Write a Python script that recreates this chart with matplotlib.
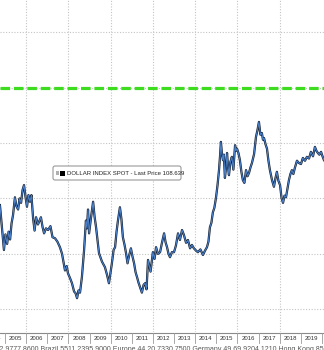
import matplotlib
matplotlib.use("Agg")
import matplotlib.pyplot as plt
from matplotlib.patches import FancyBboxPatch, Rectangle
from matplotlib.lines import Line2D

# ---- data ----
dates = [2004.76, 2004.86, 2004.95, 2005.02, 2005.10, 2005.17, 2005.24, 2005.31, 2005.38, 2005.47,
         2005.54, 2005.62, 2005.69, 2005.76, 2005.83, 2005.90, 2005.97, 2006.04, 2006.11, 2006.18,
         2006.25, 2006.33, 2006.40, 2006.47, 2006.56, 2006.70, 2006.78, 2006.85, 2006.94, 2007.04,
         2007.15, 2007.25, 2007.37, 2007.48, 2007.60, 2007.70, 2007.84, 2007.92, 2007.98, 2008.08,
         2008.17, 2008.27, 2008.34, 2008.41, 2008.48, 2008.55, 2008.64, 2008.74, 2008.83, 2008.88,
         2008.93, 2008.98, 2009.07, 2009.17, 2009.24, 2009.31, 2009.38, 2009.45, 2009.59, 2009.73,
         2009.83, 2009.92, 2010.00, 2010.06, 2010.14, 2010.21, 2010.28, 2010.35, 2010.44, 2010.51,
         2010.58, 2010.66, 2010.73, 2010.80, 2010.87, 2010.96, 2011.03, 2011.11, 2011.18, 2011.25,
         2011.32, 2011.39, 2011.48, 2011.56, 2011.63, 2011.70, 2011.77, 2011.89, 2012.00, 2012.08,
         2012.15, 2012.24, 2012.34, 2012.43, 2012.53, 2012.60, 2012.67, 2012.74, 2012.81, 2012.90,
         2013.00, 2013.09, 2013.19, 2013.28, 2013.38, 2013.47, 2013.57, 2013.66, 2013.76, 2013.85,
         2013.94, 2014.04, 2014.13, 2014.25, 2014.37, 2014.47, 2014.56, 2014.63, 2014.70, 2014.77,
         2014.84, 2014.91, 2014.99, 2015.06, 2015.13, 2015.18, 2015.22, 2015.27, 2015.32, 2015.36,
         2015.41, 2015.46, 2015.51, 2015.55, 2015.60, 2015.67, 2015.74, 2015.81, 2015.89, 2015.93,
         2015.98, 2016.05, 2016.12, 2016.19, 2016.26, 2016.33, 2016.41, 2016.48, 2016.55, 2016.62,
         2016.69, 2016.79, 2016.88, 2016.95, 2017.02, 2017.09, 2017.16, 2017.21, 2017.26, 2017.33,
         2017.40, 2017.47, 2017.54, 2017.64, 2017.73, 2017.80, 2017.87, 2017.94, 2018.02, 2018.09,
         2018.16, 2018.23, 2018.30, 2018.37, 2018.44, 2018.51, 2018.58, 2018.65, 2018.72, 2018.82,
         2018.91, 2019.01, 2019.10, 2019.20, 2019.29, 2019.39, 2019.48, 2019.58, 2019.67, 2019.74,
         2019.81, 2019.88, 2019.96, 2020.03, 2020.10]
values = [88.8, 84.5, 80.7, 83.5, 81.8, 84.0, 82.6, 85.5, 87.0, 90.2,
          88.6, 88.0, 90.0, 89.2, 91.5, 92.4, 90.3, 88.5, 90.6, 89.4,
          90.6, 86.4, 84.2, 86.6, 85.3, 86.6, 84.8, 83.7, 84.6, 84.3,
          85.0, 83.0, 82.8, 82.2, 81.2, 80.0, 77.0, 77.8, 76.5, 75.6,
          74.7, 73.2, 72.9, 72.0, 73.4, 73.0, 75.8, 80.5, 86.0, 84.6,
          88.0, 83.7, 86.5, 89.4, 86.7, 84.8, 82.4, 80.1, 78.6, 77.6,
          76.2, 74.7, 76.8, 78.3, 80.7, 81.2, 84.0, 86.1, 88.4, 86.3,
          83.0, 81.6, 80.1, 78.3, 79.6, 81.0, 79.6, 78.3, 76.7, 75.8,
          74.8, 74.0, 73.0, 74.4, 74.7, 73.6, 78.9, 76.8, 80.3, 79.1,
          81.2, 80.0, 80.3, 82.0, 83.7, 82.1, 81.2, 80.0, 79.4, 80.3,
          80.3, 81.5, 83.7, 82.5, 84.3, 83.4, 82.0, 82.5, 81.0, 81.6,
          81.0, 80.6, 80.3, 80.8, 79.8, 80.6, 81.2, 82.2, 84.8, 85.6,
          87.5, 88.3, 90.2, 92.4, 95.1, 97.7, 100.2, 98.0, 96.9, 97.9,
          93.7, 95.5, 98.2, 96.0, 94.2, 96.6, 97.5, 95.2, 99.6, 98.6,
          99.0, 98.2, 96.9, 94.8, 93.3, 92.8, 95.1, 94.0, 94.6, 95.6,
          96.4, 98.0, 101.1, 102.3, 103.8, 101.5, 101.8, 100.6, 100.9, 99.8,
          99.0, 96.8, 95.1, 93.3, 92.1, 93.6, 94.8, 93.2, 92.4, 90.1,
          89.2, 90.5, 90.2, 91.8, 93.3, 94.4, 95.1, 94.4, 95.5, 96.8,
          96.4, 96.2, 97.3, 96.8, 97.5, 97.2, 98.4, 97.6, 99.3, 98.6,
          98.2, 97.9, 98.4, 97.6, 96.9]
year_labels = [2004, 2005, 2006, 2007, 2008, 2009, 2010, 2011, 2012, 2013,
               2014, 2015, 2016, 2017, 2018, 2019, 2020]
grid_years = [2006, 2008, 2010, 2012, 2014, 2016, 2018]
grid_levels = [70, 80, 90, 100, 110, 120]
green_level = 109.9
legend_text = "DOLLAR INDEX SPOT - Last Price 108.639"
footer_text = ("Australia 61 2 9777 8600 Brazil 5511 2395 9000 Europe 44 20 7330 7500 "
               "Germany 49 69 9204 1210 Hong Kong 852 2977 6000 Japan 81 3 3201 8900")

W, H = 324, 350
fig = plt.figure(figsize=(W / 100, H / 100), dpi=100)
fig.patch.set_facecolor("white")

def fx(px):
    return px / W

def fy(py):
    return 1 - py / H

ax_bottom_px = 332
ax = fig.add_axes([0, fy(ax_bottom_px), 1, 1 - fy(ax_bottom_px)])
x0, x1 = 2004.763, 2020.10
ax.set_xlim(x0, x1)
ax.set_ylim(65.9, 125.8)
for s in ax.spines.values():
    s.set_visible(False)
ax.set_xticks([])
ax.set_yticks([])

for g in grid_levels:
    ax.axhline(g, color="#c4c4c4", lw=0.8, ls=(0, (1, 1.5)), zorder=1)
for gy in grid_years:
    ax.axvline(gy, color="#c4c4c4", lw=0.8, ls=(0, (1, 1.5)), zorder=1)

ax.axhline(green_level, color="#3ddc1f", lw=2.3, ls=(0, (3, 1.2)), zorder=2)

ax.plot(dates, values, color="#101a2a", lw=1.6, zorder=3)
ax.plot(dates, values, color="#4a80c8", lw=0.8, zorder=4)

# bottom date strip
def year_to_px(y):
    return (y - x0) / (x1 - x0) * W

fig.add_artist(Line2D([0, 1], [fy(332.5), fy(332.5)], color="#8a8a8a", lw=0.8))
for yl in year_labels:
    xb = year_to_px(yl)
    fig.add_artist(Line2D([fx(xb), fx(xb)], [fy(332.5), fy(343)], color="#9a9a9a", lw=0.6))
    fig.text(fx(year_to_px(yl + 0.5)), fy(338), str(yl), ha="center", va="center",
             fontsize=4.3, family="Liberation Sans", color="#333333")

fig.text(fx(-40), fy(349.5), footer_text, ha="left", va="center",
         fontsize=5, family="Liberation Sans", color="#555555")

# legend box
box = FancyBboxPatch((fx(53), fy(180)), fx(181) - fx(53), fy(166) - fy(180),
                     boxstyle="round,pad=0,rounding_size=0.006",
                     transform=fig.transFigure, facecolor="white",
                     edgecolor="#9a9a9a", lw=0.8, zorder=5)
fig.add_artist(box)
fig.add_artist(Rectangle((fx(55.5), fy(175)), fx(3), fy(171) - fy(175), transform=fig.transFigure,
                         facecolor="#b0b0b0", edgecolor="none", zorder=6))
fig.add_artist(Rectangle((fx(59.5), fy(176)), fx(5), fy(171) - fy(176), transform=fig.transFigure,
                         facecolor="#000000", edgecolor="none", zorder=6))
fig.text(fx(67), fy(173.3), legend_text, ha="left", va="center", fontsize=4.3,
         family="Liberation Sans", color="#222222", zorder=7)

fig.savefig("out.png", dpi=100, facecolor="white")
